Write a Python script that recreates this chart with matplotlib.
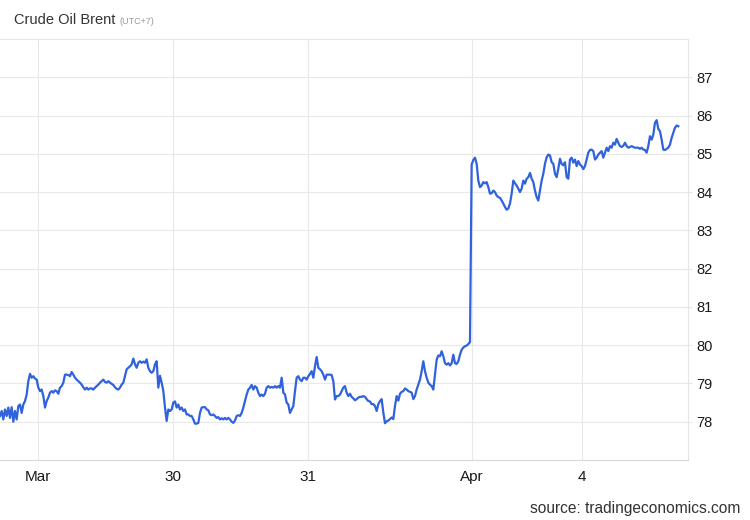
import numpy as np
import matplotlib.pyplot as plt

plt.rcParams['font.family'] = ['Liberation Sans', 'DejaVu Sans']

# Brent intraday prices, evenly spaced samples, split by chart section
seg_a = [78.15, 78.28, 78.06, 78.32, 78.15, 78.37, 78.10, 78.38, 78.00, 78.28,
         78.06, 78.41, 78.45, 78.23, 78.45, 78.54, 78.71, 79.06, 79.25, 79.15,
         79.19, 79.13, 79.10, 78.89, 78.80, 78.84, 78.67, 78.37, 78.54, 78.63,
         78.76, 78.80, 78.76, 78.82, 78.80, 78.73, 78.89, 78.93, 79.02, 79.23,
         79.23, 79.22, 79.19, 79.30, 79.23, 79.15, 79.10, 79.06, 79.02, 78.97,
         78.90, 78.84, 78.89, 78.84, 78.87, 78.87, 78.84, 78.89, 78.93, 78.97,
         79.02, 79.06, 79.10, 79.04, 79.02, 79.06, 79.02, 78.99, 78.96]
seg_b = [78.90, 78.86, 78.84, 78.89, 78.97, 79.02, 79.19, 79.37, 79.41, 79.45,
         79.50, 79.65, 79.50, 79.41, 79.54, 79.58, 79.54, 79.57, 79.54, 79.63,
         79.41, 79.32, 79.28, 79.32, 79.50, 79.58, 78.89, 79.20, 79.02, 78.80,
         78.37, 78.02, 78.32, 78.28, 78.32, 78.50, 78.53, 78.37, 78.45, 78.32,
         78.37, 78.28, 78.32, 78.19, 78.19, 78.15, 78.15, 78.06, 77.95, 77.95,
         77.97, 78.23, 78.37, 78.38, 78.38, 78.32, 78.30, 78.19, 78.17, 78.19,
         78.15, 78.10, 78.12, 78.06, 78.09, 78.06, 78.10, 78.06, 78.10]
seg_c = [78.06, 78.00, 77.97, 78.03, 78.15, 78.17, 78.15, 78.23, 78.37, 78.54,
         78.71, 78.84, 78.89, 78.96, 78.84, 78.93, 78.89, 78.76, 78.67, 78.71,
         78.67, 78.73, 78.89, 78.93, 78.89, 78.91, 78.89, 78.93, 78.89, 78.93,
         78.89, 79.15, 78.76, 78.71, 78.50, 78.45, 78.23, 78.32, 78.41, 78.80,
         79.15, 79.19, 79.10, 79.06, 79.15, 79.15, 79.10, 79.19, 79.25, 79.32,
         79.15, 79.45, 79.69, 79.41, 79.37, 79.32, 79.23, 79.10, 79.23, 79.23,
         79.23, 79.22, 79.06, 78.58, 78.67, 78.67, 78.71, 78.80, 78.89]
seg_d = [78.93, 78.76, 78.67, 78.73, 78.65, 78.61, 78.56, 78.59, 78.63, 78.65,
         78.65, 78.67, 78.65, 78.59, 78.54, 78.53, 78.46, 78.46, 78.41, 78.28,
         78.46, 78.54, 78.59, 78.24, 77.96, 78.01, 78.03, 78.07, 78.11, 78.07,
         78.41, 78.67, 78.55, 78.73, 78.78, 78.80, 78.87, 78.84, 78.80, 78.78,
         78.76, 78.59, 78.67, 78.84, 78.97, 79.10, 79.32, 79.58, 79.32, 79.15,
         79.02, 78.97, 78.93, 78.84, 79.23, 79.62, 79.73, 79.71, 79.84, 79.71,
         79.53, 79.49, 79.53, 79.47, 79.53, 79.75, 79.53, 79.51, 79.58, 79.75,
         79.88, 79.94, 79.97, 79.99, 80.03, 80.08]
seg_e = [84.72, 84.84, 84.90, 84.74, 84.30, 84.13, 84.17, 84.26, 84.23, 84.26,
         84.13, 83.96, 83.97, 84.04, 84.00, 83.91, 83.87, 83.85, 83.78, 83.70,
         83.61, 83.54, 83.57, 83.70, 83.96, 84.30, 84.23, 84.17, 84.09, 84.00,
         84.09, 84.30, 84.22, 84.35, 84.39, 84.50, 84.35, 84.26, 84.04, 83.87,
         83.78, 84.04, 84.30, 84.48, 84.74, 84.91, 84.98, 84.96, 84.78, 84.74,
         84.48, 84.39, 84.61, 84.87, 84.74, 84.70, 84.78, 84.39, 84.35]
seg_f = [84.85, 84.90, 84.77, 84.85, 84.68, 84.81, 84.72, 84.68, 84.60, 84.68,
         84.85, 85.03, 85.10, 85.11, 85.07, 84.85, 84.90, 84.98, 85.03, 85.07,
         84.90, 85.03, 85.16, 85.07, 85.20, 85.16, 85.29, 85.24, 85.39, 85.29,
         85.20, 85.18, 85.21, 85.29, 85.20, 85.16, 85.18, 85.20, 85.18, 85.16,
         85.16, 85.16, 85.13, 85.16, 85.11, 85.10, 85.03, 85.20, 85.46, 85.37,
         85.50, 85.81, 85.88, 85.65, 85.59, 85.37, 85.11, 85.10, 85.13, 85.16,
         85.24, 85.42, 85.55, 85.68, 85.74, 85.72]

prices = np.array(seg_a + seg_b + seg_c + seg_d + seg_e + seg_f)
idx = np.arange(len(prices))

tick_pos = [23, 104, 185, 283, 349]
tick_labels = ['Mar', '30', '31', 'Apr', '4']
y_ticks = list(range(78, 88))

fig = plt.figure(figsize=(7.5, 5.2), dpi=100)
ax = fig.add_axes([0.0, 0.1154, 0.9173, 0.8096])

ax.plot(idx, prices, color='#2f62dc', linewidth=1.6, solid_joinstyle='round')

ax.set_xlim(0, 412.8)
ax.set_ylim(77, 88)

ax.yaxis.tick_right()
ax.set_yticks(y_ticks)
ax.set_yticklabels([str(v) for v in y_ticks])
ax.set_xticks(tick_pos)
ax.set_xticklabels(tick_labels)

ax.grid(True, color='#e8e8e8', linewidth=0.8)
ax.set_axisbelow(True)
ax.tick_params(axis='y', length=3, color='#e6e6e6', pad=3, labelsize=10.5,
               labelcolor='#1a1a1a')
ax.tick_params(axis='x', length=0, pad=7, labelsize=11, labelcolor='#1a1a1a')

ax.spines['left'].set_visible(False)
ax.spines['top'].set_color('#e6e6e6')
ax.spines['right'].set_color('#e6e6e6')
ax.spines['bottom'].set_color('#d8d8d8')
for s in ax.spines.values():
    s.set_linewidth(0.8)

fig.text(14 / 750, 1 - 20 / 520, 'Crude Oil Brent', fontsize=10.5,
         color='#333333', va='center', ha='left')
fig.text(119 / 750, 1 - 21 / 520, '(UTC+7)', fontsize=6.5,
         color='#999999', va='center', ha='left')
fig.text(740 / 750, 1 - 508 / 520, 'source: tradingeconomics.com',
         fontsize=11.2, color='#333333', va='center', ha='right')

plt.savefig('out.png', dpi=100)
